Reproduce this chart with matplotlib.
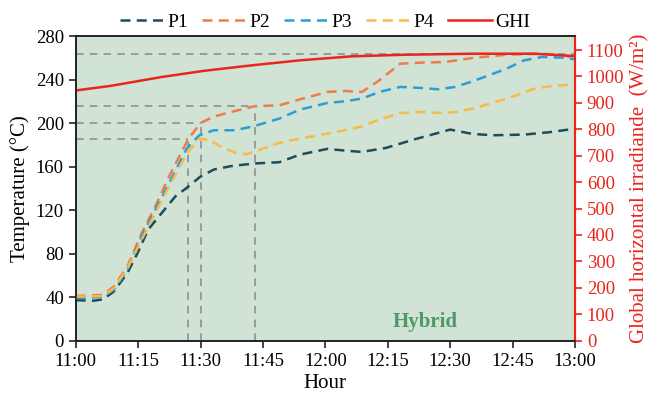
import matplotlib.pyplot as plt

plt.rcParams['font.family'] = 'serif'
plt.rcParams['font.serif'] = ['Liberation Serif', 'DejaVu Serif']

# minutes after 11:00 and temperatures (°C) for each probe
p1_t = [0, 4.1, 6.6, 9.1, 12.4, 14.9, 17.4, 20.7, 24, 26.7, 29.9, 33.2, 37.3, 42.7, 48.9,
        53.9, 60.5, 64.7, 68.8, 74.6, 81.2, 90, 95.4, 100.3, 107.8, 113.6, 120]
p1 = [37.3, 36.7, 38, 45, 62, 80.8, 102, 117.5, 132.8, 140.5, 150.6, 157.3, 160.4, 162.8, 164,
      171, 176.3, 174.7, 173.5, 177.2, 184.8, 194, 190, 188.8, 189.4, 191.5, 194.8]

p2_t = [0, 6.6, 9.1, 12.4, 15.8, 19.1, 22.4, 27, 30, 33.2, 38.2, 43, 48.9, 53.9, 60.5,
        64.7, 68.8, 73, 78, 83, 88.7, 95.4, 103.6, 112, 116.9, 120]
p2 = [41, 42, 49.6, 67.9, 98.5, 123, 150.6, 185, 200, 206, 211, 215.5, 216.3, 221.8, 228.6,
      229.5, 228.6, 239.3, 254.6, 255.5, 256.1, 259.8, 262.8, 263.7, 262.8, 259.2]

p3_t = [0, 6.6, 9.1, 12.4, 15.8, 19.1, 22.4, 26.7, 29.7, 33.2, 38.2, 42.7, 48.9, 53.9, 60.5,
        64.7, 68.8, 73, 78, 83, 87.1, 91.2, 95.4, 103.6, 107.7, 112, 116.9, 120]
p3 = [38.9, 40.4, 46.5, 64.9, 95.5, 120, 144.4, 176.6, 188.8, 193.4, 193.4, 197, 204.1, 212.4, 218.5,
      220, 222.5, 228.6, 233.2, 232.3, 231, 233.2, 238.4, 250, 257.6, 260.7, 260.1, 258.6]

p4_t = [0, 6.6, 9.1, 12.4, 15.8, 19.1, 22.4, 26.7, 29.7, 32.3, 35.7, 39, 41, 43.9, 48.9,
        53.9, 60.5, 64.7, 68.8, 73, 78, 83, 87.9, 91.2, 95.4, 103.6, 110.3, 114.4, 120]
p4 = [40.4, 41, 48, 66.4, 92.4, 116.9, 141.4, 172, 185.7, 184.2, 176.6, 172, 171.4, 175, 181.8,
      185.7, 190.3, 193.4, 197, 203.2, 209.2, 210.2, 209.2, 210.2, 213.2, 222.4, 231.6, 234, 235.6]

# global horizontal irradiance (W/m2)
ghi_t = [0, 8.3, 20.7, 30.7, 42.3, 53.9, 66.3, 78.8, 95.4, 110.3, 114.4, 120]
ghi = [947, 964, 998, 1021, 1042, 1061, 1076, 1082, 1086, 1086, 1082, 1077]

# reference guides: (time, temperature) where the probes cross the marked levels
guide_t = [27, 30, 43]
guide_temp = [185, 200, 215.5]
ghi_max_temp = 263.2

tick_minutes = [0, 15, 30, 45, 60, 75, 90, 105, 120]
tick_labels = ['11:00', '11:15', '11:30', '11:45', '12:00', '12:15', '12:30', '12:45', '13:00']

red = '#e8261e'
guide_color = '#8a8a8a'

fig = plt.figure(figsize=(6.57, 3.97), dpi=100)
ax = fig.add_axes([0.1152, 0.1418, 0.760, 0.7675])
ax.set_facecolor('#d0e3d4')
ax2 = ax.twinx()

# guide lines
ax.axhline(ghi_max_temp, color=guide_color, lw=1.1, ls=(0, (5, 4)), zorder=1)
for t, v in zip(guide_t, guide_temp):
    ax.plot([0, t], [v, v], color=guide_color, lw=1.1, ls=(0, (5, 4)), zorder=1)
    ax.plot([t, t], [0, v], color=guide_color, lw=1.1, ls=(0, (5, 4)), zorder=1)

dash = (0, (4, 2.5))
l1, = ax.plot(p1_t, p1, color='#1b4e5d', lw=1.8, ls=dash, label='P1', zorder=3)
l2, = ax.plot(p2_t, p2, color='#ee7c4c', lw=1.8, ls=dash, label='P2', zorder=3)
l3, = ax.plot(p3_t, p3, color='#2a9fd6', lw=1.8, ls=dash, label='P3', zorder=3)
l4, = ax.plot(p4_t, p4, color='#f6bb48', lw=1.8, ls=dash, label='P4', zorder=3)
l5, = ax2.plot(ghi_t, ghi, color=red, lw=1.8, label='GHI')

ax.set_xlim(0, 120)
ax.set_ylim(0, 280)
ax.set_yticks(range(0, 281, 40))
ax.set_xticks(tick_minutes)
ax.set_xticklabels(tick_labels)
ax.tick_params(axis='both', labelsize=13.5, direction='out', length=5, width=1.2, color='#222222')
ax.set_xlabel('Hour', fontsize=15, labelpad=3)
ax.set_ylabel('Temperature (°C)', fontsize=15, labelpad=4)

ax2.set_ylim(0, 1153)
ax2.set_yticks(range(0, 1101, 100))
ax2.tick_params(axis='y', labelsize=13.5, colors=red, length=5, width=1.2)
ax2.set_ylabel('Global horizontal irradiande  (W/m²)', color=red, fontsize=15, labelpad=4)

for a in (ax, ax2):
    for s in ('left', 'bottom', 'top'):
        a.spines[s].set_color('#222222')
        a.spines[s].set_linewidth(1.2)
    a.spines['right'].set_color(red)
    a.spines['right'].set_linewidth(1.5)

ax.text(84, 17, 'Hybrid', color='#4e9a66', fontsize=15, fontweight='bold', ha='center', va='center')

fig.legend(handles=[l1, l2, l3, l4, l5], loc='upper center', bbox_to_anchor=(0.495, 1.01),
           ncol=5, frameon=False, fontsize=14, handlelength=2.3, handletextpad=0.15,
           columnspacing=0.7)

fig.savefig('out.png', dpi=100)
